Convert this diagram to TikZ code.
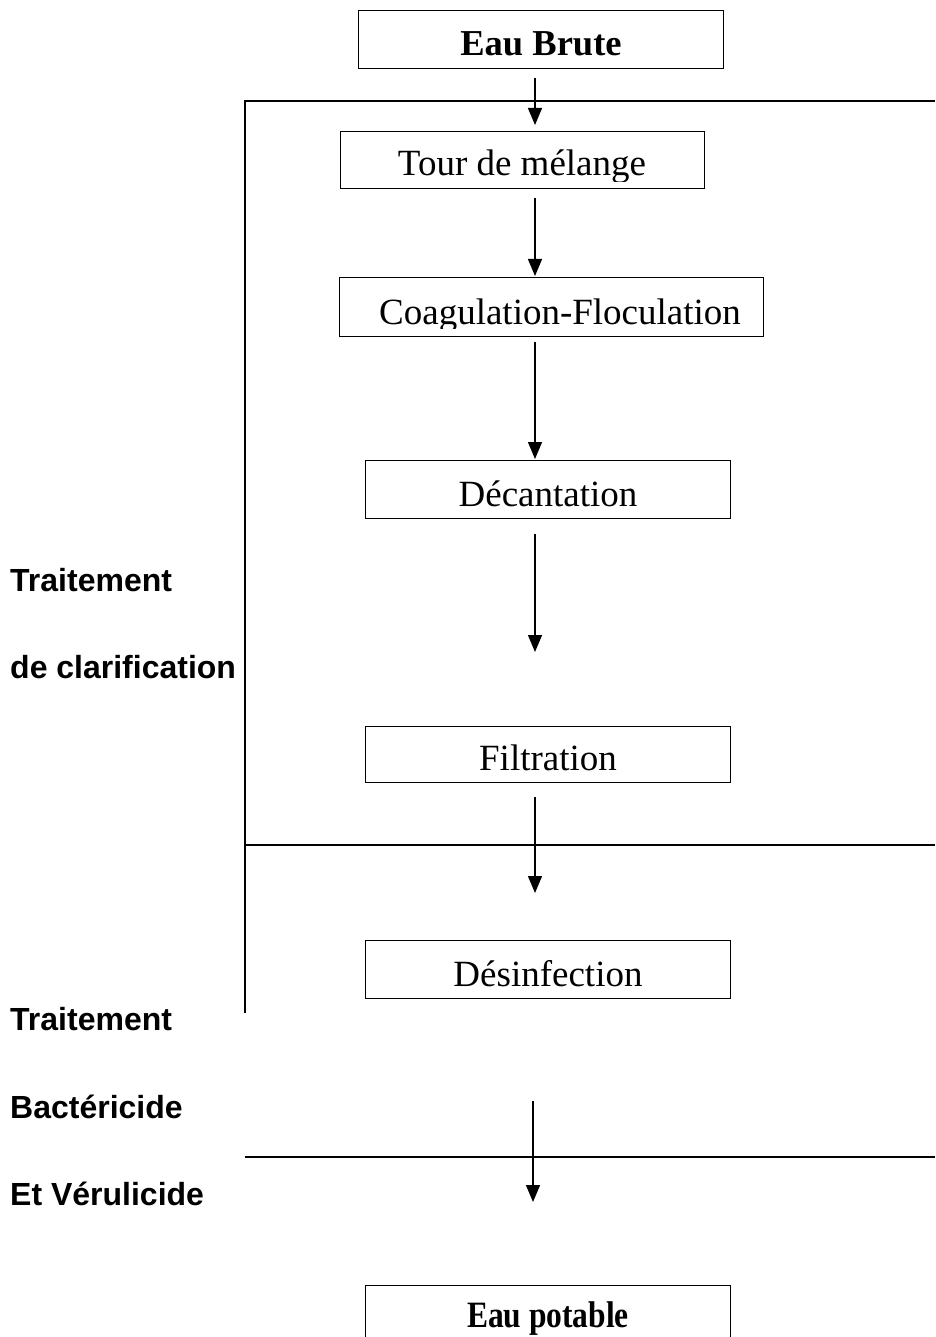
\documentclass[tikz,border=0pt]{standalone}
\usepackage{fontspec}
\usepackage{graphicx}
\setmainfont{Liberation Serif}
\newfontfamily\arialf{Liberation Sans}
\usetikzlibrary{arrows.meta,calc}
\begin{document}
\begin{tikzpicture}[x=1pt,y=-1pt,
  box/.style={draw, line width=1.4pt, inner sep=0pt, anchor=north west},
  proc/.style={font=\fontsize{37}{40}\selectfont, inner sep=0pt, anchor=base},
  side/.style={font=\arialf\bfseries\fontsize{32}{36}\selectfont, anchor=base west, inner sep=0pt},
  flow/.style={line width=1.3pt, -{Triangle[width=14pt,length=17pt]}},
  rulel/.style={line width=1.4pt}]
\useasboundingbox (0,0) rectangle (935,1337);
\coordinate (ax) at (535,0);
\coordinate (bx) at (533,0);
% boxes
\node[box, minimum width=365pt, minimum height=58pt] (brute) at (358,10) {};
\node[proc, font=\bfseries\fontsize{36.5}{40}\selectfont] (brutet) at (541,56) {Eau Brute};
\node[box, minimum width=364pt, minimum height=57pt] (tour) at (340,131) {};
\begin{scope}
  \clip (340,131) rectangle (704,182);
  \node[proc] (tourt) at (522,176) {Tour de mélange};
\end{scope}
\node[box, minimum width=424pt, minimum height=59pt] (coag) at (339,277) {};
\begin{scope}
  \clip (339,277) rectangle (763,328);
  \node[proc] (coagt) at (560,324) {Coagulation-Floculation};
\end{scope}
\node[box, minimum width=365pt, minimum height=58pt] (dec) at (365,460) {};
\node[proc] (dect) at (548,506) {Décantation};
\node[box, minimum width=365pt, minimum height=56pt] (fil) at (365,726) {};
\node[proc] (filt) at (548,770) {Filtration};
\node[box, minimum width=365pt, minimum height=58pt] (des) at (365,940) {};
\node[proc] (dest) at (548,986) {Désinfection};
\node[box, minimum width=365pt, minimum height=80pt] (pot) at (365,1285) {};
\node[proc] (pott) at (548,1327) {\scalebox{1}[1.18]{\bfseries\fontsize{31.5}{36}\selectfont Eau potable}};
% rules
\coordinate (r1a) at (245,101);
\coordinate (r1b) at (935,101);
\coordinate (vb) at (245,1013);
\coordinate (r2a) at (245,845);
\coordinate (r2b) at (935,845);
\coordinate (r3a) at (245,1157);
\coordinate (r3b) at (935,1157);
\draw[rulel] (r1b) -- (r1a) -- (vb);
\draw[rulel] (r2a) -- (r2b);
\draw[rulel] (r3a) -- (r3b);
% arrows
\draw[flow] ($(brute.south -| ax)+(0,9)$) -- ($(tour.north -| ax)+(0,-6)$);
\draw[flow] ($(tour.south -| ax)+(0,9)$) -- ($(coag.north -| ax)+(0,-1)$);
\draw[flow] ($(coag.south -| ax)+(0,5)$) -- ($(dec.north -| ax)+(0,-1)$);
\draw[flow] ($(dec.south -| ax)+(0,15)$) -- ($(fil.north -| ax)+(0,-74)$);
\draw[flow] ($(fil.south -| ax)+(0,14)$) -- ($(des.north -| ax)+(0,-47)$);
\draw[flow] ($(des.south -| bx)+(0,102)$) -- ($(pot.north -| bx)+(0,-83)$);
% side labels
\node[side] (l1) at (10,591) {Traitement};
\node[side] (l2) at (10,678) {de clarification};
\node[side] (l3) at (10,1030) {Traitement};
\node[side] (l4) at (10,1118) {Bactéricide};
\node[side] (l5) at (10,1205) {Et Vérulicide};
\end{tikzpicture}
\end{document}
